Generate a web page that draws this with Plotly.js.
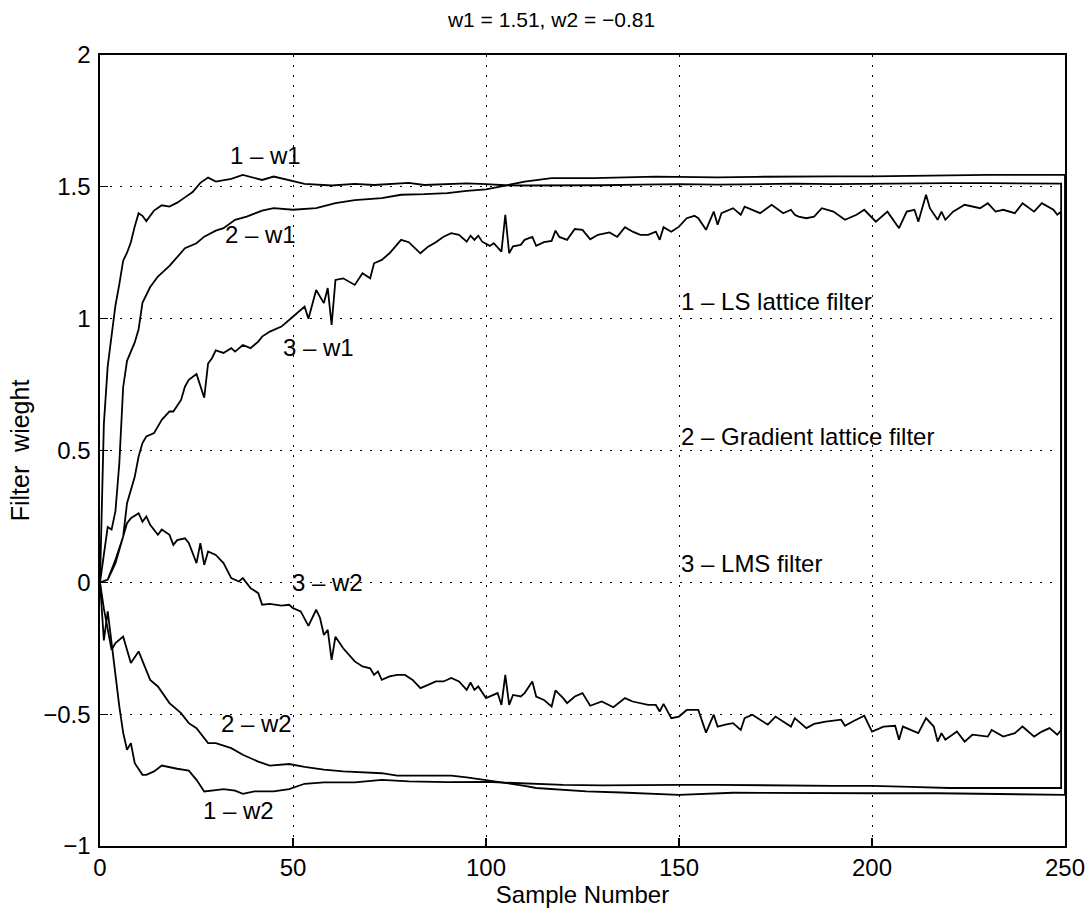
<!DOCTYPE html>
<html>
<head>
<meta charset="utf-8">
<script src="https://cdn.plot.ly/plotly-3.0.1.min.js"></script>
<style>html,body{margin:0;padding:0;background:#fff;}#chart{width:1090px;height:915px;}</style>
</head>
<body>
<div id="chart"></div>
<script>
// ---- Series 1: LS lattice filter ----
const lsW1X = [0,1,2,3,4,5,6,7,8,9,10,11,12,14,16,18,20,22,24,26,28,30,32,34,37,40,42,45,49,53,60,66,71,75,80,84,90,95,100,105,110,120,130,140,150,160,170,180,190,200,210,220,230,240,249];
const lsW1  = [0,0.60,0.82,0.93,1.05,1.13,1.22,1.25,1.29,1.35,1.40,1.39,1.37,1.41,1.43,1.425,1.44,1.46,1.48,1.515,1.535,1.52,1.525,1.53,1.545,1.533,1.526,1.539,1.524,1.511,1.505,1.511,1.507,1.511,1.515,1.507,1.511,1.513,1.51,1.506,1.505,1.505,1.506,1.508,1.51,1.508,1.51,1.512,1.51,1.512,1.513,1.514,1.514,1.512,1.512];
const lsW2X = [0,1,2,3,4,5,6,7,8,9,10,11,12,14,16,18,20,23,25,27,30,32,35,37,40,45,49,53,58,66,73,80,90,100,110,120,130,140,150,160,170,180,190,200,210,220,230,240,249];
const lsW2  = [0,-0.22,-0.11,-0.22,-0.35,-0.47,-0.57,-0.635,-0.61,-0.686,-0.71,-0.73,-0.73,-0.717,-0.695,-0.70,-0.707,-0.714,-0.749,-0.793,-0.788,-0.784,-0.79,-0.802,-0.793,-0.793,-0.784,-0.764,-0.759,-0.759,-0.749,-0.755,-0.758,-0.757,-0.762,-0.768,-0.770,-0.770,-0.768,-0.768,-0.768,-0.770,-0.772,-0.772,-0.776,-0.780,-0.780,-0.780,-0.780];

// ---- Series 2: Gradient lattice filter ----
const glW1X = [0,1,2,3,4,5,6,7,8,9,10,11,13,15,18,20,22,25,27,30,32,35,38,42,45,50,56,61,66,73,78,84,90,95,100,105,110,117,128,144,150,160,170,180,190,200,210,220,230,240,250];
const glW1  = [0,0.10,0.21,0.20,0.27,0.45,0.74,0.84,0.875,0.91,0.96,1.06,1.12,1.16,1.20,1.235,1.267,1.286,1.311,1.334,1.343,1.375,1.387,1.41,1.419,1.413,1.419,1.438,1.45,1.457,1.47,1.472,1.476,1.485,1.49,1.505,1.52,1.533,1.533,1.539,1.537,1.536,1.538,1.54,1.54,1.54,1.542,1.545,1.545,1.545,1.545];
const glW2X = [0,1,3,4,6,8,10,13,15,18,21,23,25,28,30,34,37,41,44,49,53,58,63,73,77,84,91,95,100,105,110,113,120,126,135,142,150,164,180,200,217,235,250];
const glW2  = [0,-0.10,-0.256,-0.23,-0.206,-0.306,-0.262,-0.37,-0.395,-0.458,-0.496,-0.534,-0.553,-0.61,-0.61,-0.629,-0.654,-0.68,-0.695,-0.689,-0.70,-0.71,-0.717,-0.724,-0.733,-0.733,-0.733,-0.74,-0.75,-0.76,-0.772,-0.78,-0.787,-0.793,-0.797,-0.80,-0.806,-0.798,-0.80,-0.80,-0.80,-0.803,-0.806];

// ---- Series 3: LMS filter ----
const lmsW1X = [0,2,4,6,7,9,10,11,12,14,16,18,19,21,22,23,25,26,27,28,29,30,32,34,35,37,39,41,42,44,47,49,53,54,56,58,59,60,61,63,66,68,70,71,73,75,78,80,83,85,87,89,91,93,95,96,97,98,99,101,102,104,105,106,107,109,110,112,113,115,117,118,119,121,123,125,127,129,132,134,136,138,140,142,144,145,146,148,150,152,154,155,157,159,160,161,164,166,167,171,174,177,179,180,181,183,185,187,190,193,196,198,201,204,207,209,211,212,214,215,217,218,219,221,224,228,230,232,234,237,239,242,244,247,248,249];
const lmsW1  = [0,0.01,0.073,0.174,0.30,0.40,0.477,0.528,0.553,0.566,0.616,0.648,0.648,0.692,0.742,0.768,0.79,0.742,0.70,0.83,0.85,0.88,0.87,0.888,0.875,0.90,0.888,0.913,0.932,0.951,0.97,0.995,1.046,1.0,1.109,1.059,1.116,0.976,1.147,1.153,1.128,1.172,1.153,1.21,1.223,1.248,1.299,1.29,1.248,1.273,1.29,1.311,1.324,1.318,1.292,1.315,1.299,1.315,1.292,1.276,1.286,1.254,1.394,1.248,1.274,1.28,1.299,1.31,1.276,1.29,1.295,1.334,1.31,1.299,1.34,1.337,1.301,1.318,1.327,1.31,1.347,1.33,1.318,1.318,1.33,1.299,1.347,1.33,1.349,1.381,1.39,1.381,1.337,1.406,1.356,1.40,1.419,1.394,1.425,1.40,1.432,1.40,1.413,1.394,1.387,1.381,1.387,1.419,1.406,1.375,1.394,1.413,1.368,1.406,1.343,1.406,1.413,1.368,1.47,1.419,1.375,1.406,1.375,1.406,1.432,1.419,1.438,1.406,1.413,1.40,1.438,1.406,1.438,1.413,1.394,1.406];
const lmsW2X = [0,2,4,6,7,8,10,11,12,13,15,16,18,19,20,22,23,25,26,27,28,30,32,34,36,37,39,41,42,44,47,49,50,52,54,56,57,58,59,60,61,63,66,68,70,71,72,73,75,77,79,81,83,85,87,89,91,93,95,96,97,98,100,102,103,104,105,106,107,109,110,112,113,115,117,118,120,121,123,125,127,130,133,136,138,142,144,145,146,148,150,152,155,157,159,160,162,164,166,167,169,173,175,179,180,183,185,188,192,193,195,198,200,203,206,207,208,212,214,216,217,218,219,222,224,226,230,231,234,237,239,242,244,246,248,249];
const lmsW2  = [0,0.01,0.085,0.174,0.224,0.243,0.262,0.23,0.25,0.218,0.18,0.20,0.18,0.142,0.16,0.167,0.149,0.073,0.149,0.066,0.117,0.104,0.073,0.016,0.003,0.016,-0.022,-0.041,-0.085,-0.082,-0.088,-0.085,-0.098,-0.11,-0.165,-0.104,-0.135,-0.20,-0.18,-0.294,-0.206,-0.25,-0.30,-0.319,-0.326,-0.351,-0.338,-0.37,-0.357,-0.351,-0.351,-0.37,-0.401,-0.389,-0.376,-0.376,-0.363,-0.376,-0.408,-0.38,-0.408,-0.395,-0.439,-0.427,-0.42,-0.465,-0.351,-0.465,-0.427,-0.433,-0.42,-0.376,-0.433,-0.446,-0.471,-0.41,-0.439,-0.458,-0.433,-0.42,-0.468,-0.452,-0.474,-0.439,-0.452,-0.465,-0.465,-0.49,-0.461,-0.515,-0.509,-0.484,-0.484,-0.57,-0.502,-0.547,-0.54,-0.534,-0.56,-0.515,-0.502,-0.54,-0.509,-0.547,-0.515,-0.553,-0.537,-0.528,-0.521,-0.544,-0.528,-0.506,-0.566,-0.547,-0.544,-0.597,-0.547,-0.572,-0.515,-0.547,-0.604,-0.572,-0.597,-0.566,-0.604,-0.578,-0.585,-0.56,-0.585,-0.572,-0.547,-0.585,-0.566,-0.553,-0.578,-0.56];

// ---- Text labels ----
const titleText = "w1 = 1.51, w2 = \u22120.81";
const xTitle = "Sample Number";
const yTitle = "Filter  wieght";
const curveLabels = ["1 \u2013 w1","2 \u2013 w1","3 \u2013 w1","3 \u2013 w2","2 \u2013 w2","1 \u2013 w2"];
const curveLabelX = [43,41.5,56.5,59,40.5,36];
const curveLabelY = [1.62,1.32,0.89,0.0,-0.535,-0.865];
const legendLabels = ["1 \u2013 LS lattice filter","2 \u2013 Gradient lattice filter","3 \u2013 LMS filter"];
const legendX = [150,150,150];
const legendY = [1.065,0.555,0.07];
const xTicks = [0,50,100,150,200,250];
const yTicks = [-1,-0.5,0,0.5,1,1.5,2];

function loopTrace(xa, ya, xb, yb) {
  return {
    x: xa.concat(xb.slice().reverse()),
    y: ya.concat(yb.slice().reverse()),
    type: 'scatter', mode: 'lines',
    line: {color: '#000', width: 1.8},
    hoverinfo: 'skip', showlegend: false
  };
}

const data = [
  loopTrace(lsW1X, lsW1, lsW2X, lsW2),
  loopTrace(glW1X, glW1, glW2X, glW2),
  loopTrace(lmsW1X, lmsW1, lmsW2X, lmsW2)
];

const FONT = 'Liberation Sans, Arial, Helvetica, sans-serif';
const annotations = [];
curveLabels.forEach((t,i)=>annotations.push({x:curveLabelX[i], y:curveLabelY[i], xref:'x', yref:'y', text:t, showarrow:false, font:{family:FONT,size:24,color:'#000'}}));
legendLabels.forEach((t,i)=>annotations.push({x:legendX[i], y:legendY[i], xref:'x', yref:'y', text:t, showarrow:false, xanchor:'left', font:{family:FONT,size:24,color:'#000'}}));

const axisCommon = {
  showline: true, mirror: true, linecolor: '#000', linewidth: 1.6,
  ticks: 'inside', ticklen: 8, tickcolor: '#000', tickwidth: 1.2,
  showgrid: true, gridcolor: '#000', gridwidth: 1, griddash: '2px,8px',
  zeroline: false, tickfont: {family: FONT, size: 24, color: '#000'}
};

const layout = {
  width: 1090, height: 915,
  margin: {l: 100, r: 25, t: 55, b: 69},
  paper_bgcolor: '#fff', plot_bgcolor: '#fff',
  font: {family: FONT, color: '#000'},
  title: {text: titleText, font: {family: FONT, size: 21, color: '#000'}, xref: 'container', x: 0.506, xanchor: 'center', yref: 'container', y: 0.978, yanchor: 'middle'},
  xaxis: Object.assign({}, axisCommon, {range: [0,250], tickvals: xTicks, ticktext: xTicks.map(String), ticklabelstandoff: 0, title: {text: xTitle, font: {family: FONT, size: 24, color: '#000'}, standoff: 0}}),
  yaxis: Object.assign({}, axisCommon, {range: [-1,2], tickvals: yTicks, ticktext: yTicks.map(v=> v<0 ? '\u2212'+Math.abs(v) : String(v)), ticklabelstandoff: 3, title: {text: yTitle, font: {family: FONT, size: 25, color: '#000'}, standoff: 6}}),
  annotations: annotations
};

Plotly.newPlot('chart', data, layout, {displayModeBar: false, staticPlot: true});
</script>
</body>
</html>
